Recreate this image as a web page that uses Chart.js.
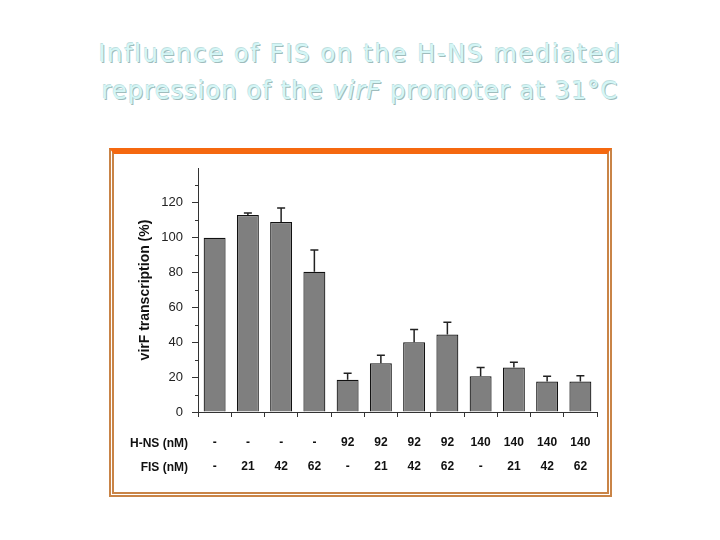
<!DOCTYPE html>
<html>
<head>
<meta charset="utf-8">
<script src="https://cdn.jsdelivr.net/npm/chart.js@4.4.1/dist/chart.umd.min.js"></script>
<style>
  html, body { margin:0; padding:0; background:#fff; }
  body { width:720px; height:540px; position:relative; overflow:hidden; font-family:"Liberation Sans", Arial, sans-serif; }
  .title { position:absolute; left:0; width:720px; text-align:center; font-family:"DejaVu Sans", sans-serif; font-size:24px; color:#d4f6f6;
    text-shadow: 1px 1px 0 #9fbcbc, -0.6px -0.6px 0 #bfe0e0; white-space:nowrap; line-height:1; }
  .title span { display:inline-block; }
  .frame { position:absolute; left:109px; top:148px; width:493px; height:338px; border:5px double #c98447; border-top:6px solid #f5680f; box-sizing:content-box; }
  .rowlab { position:absolute; right:532px; font-weight:bold; font-size:12px; color:#111; line-height:14px; white-space:nowrap; }
  #wrap { position:absolute; left:0; top:0; width:720px; height:540px; }
</style>
</head>
<body>
<div class="frame"></div>
<div class="title" style="top:42px;"><span id="t1">Influence of FIS on the H-NS mediated</span></div>
<div class="title" style="top:79px;"><span id="t2">repression of the <i>virF</i> promoter at 31°C</span></div>
<div id="wrap"><canvas id="c" width="720" height="540"></canvas></div>
<div class="rowlab" style="top:436px;">H-NS (nM)</div>
<div class="rowlab" style="top:460px;">FIS (nM)</div>
<script>
// ---- data ----
const hnsLabels = ['-','-','-','-','92','92','92','92','140','140','140','140'];
const fisLabels = ['-','21','42','62','-','21','42','62','-','21','42','62'];
const values    = [100, 113, 109, 80.5, 18.5, 28, 40, 44.5, 20.5, 25.5, 17.5, 17.5];
const errors    = [0, 1.2, 8, 12.5, 3.8, 4.5, 7.4, 7, 5, 3, 3, 3.3];
const yTicks    = [0, 20, 40, 60, 80, 100, 120];
const yTitle    = 'virF transcription (%)';

// fit title lines to reference widths
function fit(id, target) {
  const el = document.getElementById(id);
  const n = el.textContent.length;
  const w = el.getBoundingClientRect().width;
  el.style.letterSpacing = ((target - w) / n) + 'px';
}

const categories = hnsLabels.map((h, i) => [h, fisLabels[i]]);

const errorBars = {
  id: 'errorBars',
  afterDatasetsDraw(chart) {
    const ctx = chart.ctx;
    const meta = chart.getDatasetMeta(0);
    const y = chart.scales.y;
    ctx.save();
    ctx.strokeStyle = '#222';
    ctx.lineWidth = 1.5;
    meta.data.forEach((bar, i) => {
      if (!errors[i]) return;
      const top = y.getPixelForValue(values[i] + errors[i]);
      ctx.beginPath();
      ctx.moveTo(bar.x, bar.y);
      ctx.lineTo(bar.x, top);
      ctx.moveTo(bar.x - 4, top);
      ctx.lineTo(bar.x + 4, top);
      ctx.stroke();
    });
    ctx.restore();
  }
};

const minorTicks = {
  id: 'minorTicks',
  afterDraw(chart) {
    const ctx = chart.ctx;
    const y = chart.scales.y;
    ctx.save();
    ctx.strokeStyle = '#333';
    ctx.lineWidth = 1;
    for (let i = 0; i < yTicks.length; i++) {
      const v = yTicks[i] + 10;
      const p = Math.round(y.getPixelForValue(v)) + 0.5;
      ctx.beginPath();
      ctx.moveTo(y.right - 3, p);
      ctx.lineTo(y.right, p);
      ctx.stroke();
    }
    ctx.restore();
  }
};

new Chart(document.getElementById('c'), {
  type: 'bar',
  data: {
    labels: categories,
    datasets: [{
      data: values,
      backgroundColor: '#7f7f7f',
      borderColor: '#111',
      borderWidth: 1.2,
      borderSkipped: 'bottom',
      barPercentage: 0.66,
      categoryPercentage: 1.0
    }]
  },
  options: {
    responsive: false,
    animation: false,
    layout: { padding: { left: 132, right: 123, top: 168, bottom: 0 } },
    plugins: { legend: { display: false }, tooltip: { enabled: false } },
    scales: {
      x: {
        afterFit: s => { s.height = 128; },
        grid: { offset: true, drawOnChartArea: false, drawTicks: true, tickLength: 5, color: '#333' },
        border: { color: '#333', width: 1 },
        ticks: { color: '#111', padding: 14, font: { family: '"Liberation Sans", Arial, sans-serif', size: 12, weight: 'bold', lineHeight: 2 }, maxRotation: 0, autoSkip: false }
      },
      y: {
        min: 0, max: 140,
        afterFit: s => { s.width = 66; },
        afterBuildTicks: s => { s.ticks = yTicks.map(v => ({ value: v })); },
        grid: { drawOnChartArea: false, tickLength: 6, color: '#333' },
        border: { color: '#333', width: 1 },
        ticks: { color: '#222', padding: 9, font: { family: '"Liberation Sans", Arial, sans-serif', size: 13 } },
        title: { display: true, text: yTitle, color: '#111', padding: { top: 5, bottom: 0 }, font: { family: '"Liberation Sans", Arial, sans-serif', size: 14, weight: 'bold' } }
      }
    }
  },
  plugins: [errorBars, minorTicks]
});

fit('t1', 523);
fit('t2', 517);
</script>
</body>
</html>
